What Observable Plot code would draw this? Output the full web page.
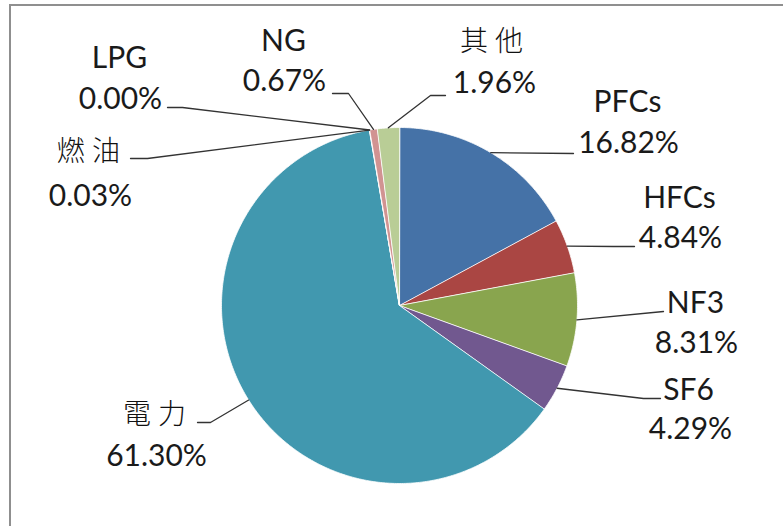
<!DOCTYPE html>
<html>
<head>
<meta charset="utf-8">
<script src="https://cdn.jsdelivr.net/npm/d3@7"></script>
<script src="https://cdn.jsdelivr.net/npm/@observablehq/plot@0.6"></script>
<style>
  html, body { margin: 0; padding: 0; background: #fff; }
  #wrap { position: relative; width: 783px; height: 526px; overflow: hidden; }
  #frame { position: absolute; left: 9px; top: 4px; width: 800px; height: 600px;
           border-top: 2.5px solid #8f8f8f; border-left: 2.5px solid #8f8f8f; pointer-events: none; }
  [aria-label="cjk-names"] text, text[aria-label="cjk-names"] { letter-spacing: 7px; }
</style>
</head>
<body>
<div id="wrap"><div id="chart"></div><div id="frame"></div></div>
<script>
// ---- data ----
const categories = ["PFCs", "HFCs", "NF3", "SF6", "電力", "燃油", "LPG", "NG", "其他"];
const shares = [16.82, 4.84, 8.31, 4.29, 61.30, 0.03, 0.00, 0.67, 1.96];
const valueLabels = ["16.82%", "4.84%", "8.31%", "4.29%", "61.30%", "0.03%", "0.00%", "0.67%", "1.96%"];
const colors = ["#4572A7", "#AA4643", "#89A54E", "#71588F", "#4198AF", "#DB843D", "#93A9CF", "#D19392", "#B9CD96"];

// ---- layout (label placement, pixel space) ----
const cx = 399, cy = 305, R = 178;
const nameX   = [627, 679, 695, 688, 154, 88, 119, 283, 491];
const nameY   = [111, 207, 312, 399, 423, 160, 67, 50, 50];
const valX    = [628, 680, 696, 690, 156, 90, 120, 284, 494];
const valY    = [152, 247, 352, 438, 465, 205, 108, 90, 92];
const elbowX  = [573, 613, 663, 643, 210, 147, 182, 348, 430];
const elbowY  = [153, 246, 311, 398, 422, 158, 107, 93, 95];
const endX    = [573, 634, 663, 660, 197, 130, 167, 332, 445];
const endY    = [153, 246, 311, 398, 422, 158, 107, 93, 95];

const rows = categories.map((c, i) => ({name: c, value: shares[i], label: valueLabels[i], color: colors[i], i}));
const arcs = d3.pie().sort(null).value(d => d.value).startAngle(0).endAngle(2 * Math.PI)(rows);

// slice polygons
const slicePts = [];
for (const a of arcs) {
  const n = Math.max(2, Math.ceil((a.endAngle - a.startAngle) / 0.01));
  slicePts.push({k: a.data.name, x: cx, y: cy, color: a.data.color});
  for (let j = 0; j <= n; j++) {
    const t = a.startAngle + (a.endAngle - a.startAngle) * j / n;
    slicePts.push({k: a.data.name, x: cx + R * Math.sin(t), y: cy - R * Math.cos(t), color: a.data.color});
  }
}

// leader lines: from slice edge at mid-angle to elbow to end
const leaderPts = [];
for (const a of arcs) {
  const i = a.data.i;
  const m = (a.startAngle + a.endAngle) / 2;
  leaderPts.push({k: i, x: cx + R * Math.sin(m), y: cy - R * Math.cos(m)});
  leaderPts.push({k: i, x: elbowX[i], y: elbowY[i]});
  leaderPts.push({k: i, x: endX[i], y: endY[i]});
}

const isCJK = s => /[\u4e00-\u9fff]/.test(s);
const labelRows = rows.map(r => ({...r, nx: nameX[r.i], ny: nameY[r.i], vx: valX[r.i], vy: valY[r.i]}));

const chart = Plot.plot({
  width: 783,
  height: 526,
  margin: 0,
  x: {domain: [0, 783], range: [0, 783], axis: null},
  y: {domain: [0, 526], range: [0, 526], axis: null},
  marks: [
    Plot.line(slicePts, {x: "x", y: "y", z: "k", fill: "color", stroke: "white", strokeWidth: 0.8, curve: "linear-closed"}),
    Plot.line(leaderPts, {x: "x", y: "y", z: "k", stroke: "#333", strokeWidth: 1.3}),
    Plot.text(labelRows.filter(d => !isCJK(d.name)), {x: "nx", y: "ny", text: "name", lineAnchor: "bottom",
      fontFamily: "Lato, 'Liberation Sans', sans-serif", fontSize: 30, fill: "#1a1a1a"}),
    Plot.text(labelRows.filter(d => isCJK(d.name)), {x: "nx", y: "ny", text: "name", lineAnchor: "bottom",
      fontFamily: "'Noto Sans CJK TC', sans-serif", fontSize: 28, fontWeight: 300, fill: "#111",
      dx: 3.5, ariaLabel: () => "cjk-names"}),
    Plot.text(labelRows, {x: "vx", y: "vy", text: "label", lineAnchor: "bottom",
      fontFamily: "Lato, 'Liberation Sans', sans-serif", fontSize: 30, fill: "#1a1a1a"})
  ]
});
document.getElementById("chart").appendChild(chart);
</script>
</body>
</html>
